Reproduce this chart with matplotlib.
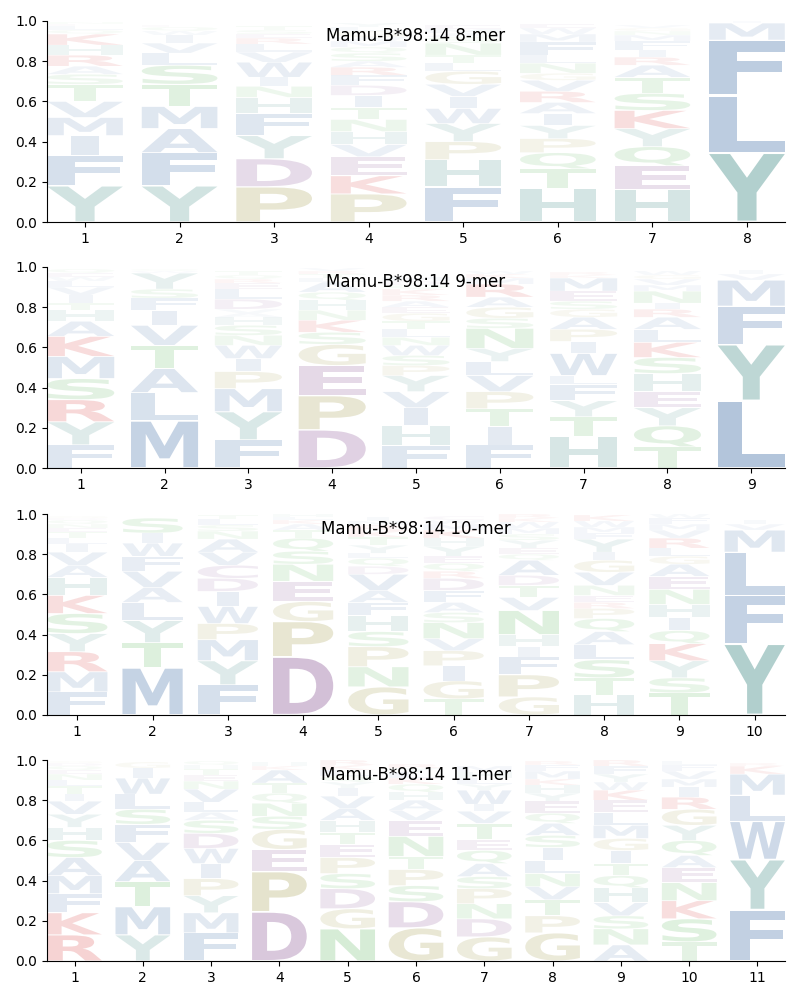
"""
Sequence logos for Mamu-B*98:14 peptide lengths 8-11
"""

#---------------------------------------------------------------------------------------------------
# Import Modules
#---------------------------------------------------------------------------------------------------

import matplotlib
matplotlib.use('Agg')
import matplotlib.pyplot as plt
from matplotlib.textpath import TextPath
from matplotlib.patches import PathPatch
from matplotlib.font_manager import FontProperties
from matplotlib.transforms import Affine2D


#---------------------------------------------------------------------------------------------------
# Input Data (letters listed bottom to top, with their frequencies)
#---------------------------------------------------------------------------------------------------

allele = 'Mamu-B*98:14'

letters_8mer = ['YFIMVTSARHKQLEN', 'YFAMTSLVIWQE', 'PDYFHNIWVLREST', 'PKEVHNTIDFRASQMWGLY',
                'FHPYWIVGLTNSAME', 'HTQPYIARVGNLFMWE', 'HEQYKSTARIFMNGV', 'YLFMI']
freqs_8mer = [[.18, .15, .10, .09, .08, .085, .05, .04, .055, .05, .055, .02, .02, .01, .01],
              [.18, .165, .12, .11, .11, .095, .06, .05, .04, .02, .02, .01],
              [.175, .14, .115, .11, .08, .055, .045, .075, .05, .04, .03, .02, .02, .02],
              [.14, .09, .095, .06, .065, .06, .06, .06, .05, .05, .04, .03, .04, .03, .03, .02, .03,
               .02, .02],
              [.175, .135, .09, .09, .075, .06, .06, .065, .04, .04, .06, .03, .02, .02, .02],
              [.165, .10, .08, .07, .065, .06, .055, .055, .055, .035, .05, .04, .065, .04, .03, .02],
              [.16, .12, .095, .09, .09, .085, .08, .06, .04, .035, .045, .03, .02, .015, .015],
              [.345, .285, .275, .085, .01]]

letters_9mer = ['FYRSMKAHTIVLWEQ', 'MLATVIFSYWQ', 'FYMPIWNSHAVDLERQT', 'DPEGSKNHQALTRV',
                'FHIVYPSWNLTGEARKQDM', 'FITPVLYNSGARMKW', 'HTYFLWIPAGSEMKR', 'TQYEHSKLARINMVGW',
                'LYFMVI']
freqs_9mer = [[.115, .115, .11, .105, .11, .10, .075, .055, .035, .04, .04, .03, .02, .02, .02],
              [.235, .14, .12, .115, .10, .075, .06, .045, .08, .01, .01],
              [.14, .14, .115, .085, .065, .065, .05, .05, .04, .02, .02, .05, .05, .03, .02, .02, .02],
              [.19, .17, .15, .105, .06, .06, .05, .05, .04, .05, .02, .02, .015, .015],
              [.11, .10, .09, .08, .08, .05, .05, .05, .04, .04, .04, .04, .03, .03, .03, .03, .02,
               .02, .02],
              [.115, .09, .09, .085, .08, .07, .065, .10, .05, .055, .05, .065, .03, .02, .015],
              [.155, .10, .08, .08, .045, .11, .06, .06, .06, .04, .04, .05, .065, .015, .015],
              [.105, .105, .09, .08, .09, .08, .075, .065, .06, .04, .03, .06, .03, .03, .02, .02],
              [.335, .28, .19, .13, .03, .02]]

letters_10mer = ['FMRYSKHAVILTENQDG', 'MTYLAVFWIS', 'FYMPWIDCVANSLT', 'DPGENSQTAKLH',
                 'GNPSHFAVDQLYTKRMI', 'TGIPVNSAFDRQEYHKMWC', 'GPFIHNVTDAQEYSMWKR',
                 'HTSLAQPRENVGIYFMWK', 'TSYKQIHNEAGLRVMFW', 'YFLMVI']
freqs_10mer = [[.115, .10, .10, .09, .10, .09, .09, .06, .065, .04, .03, .03, .02, .02, .02, .01, .01],
               [.235, .125, .11, .09, .075, .08, .075, .065, .05, .075],
               [.15, .12, .105, .08, .085, .075, .065, .065, .065, .065, .04, .03, .03, .02],
               [.29, .175, .10, .10, .085, .065, .065, .04, .03, .02, .015, .015],
               [.14, .10, .10, .075, .08, .065, .06, .08, .04, .04, .025, .04, .04, .03, .03, .02, .02],
               [.08, .09, .075, .075, .06, .08, .05, .05, .06, .06, .035, .04, .035, .05, .04, .04,
                .03, .02, .02],
               [.09, .11, .09, .05, .06, .12, .065, .06, .05, .075, .03, .03, .04, .03, .03, .03, .02,
                .02],
               [.10, .085, .09, .075, .065, .065, .05, .03, .035, .05, .065, .06, .04, .065, .03, .03,
                .03, .03],
               [.11, .075, .085, .085, .065, .065, .065, .075, .065, .06, .04, .04, .05, .04, .03, .03,
                .02],
               [.355, .24, .215, .11, .03, .02]]

letters_11mer = ['RKFMASHYVITLNEQDG', 'YMTAVFSLWIG', 'FMYPIWDSALVNETHQ', 'DPEGSNQTAKH',
                 'NGDSPETHAVIYQLKR', 'GDSPTNEVAHQKLYR', 'GDNPSAQETVIWYLHM', 'GPTVNLISAQEYHKMFR',
                 'ANSVHQTIGMLEKWYFR', 'TSKNEAQYGRIMVFL', 'FYWLMKR']
freqs_11mer = [[.13, .11, .095, .09, .09, .085, .065, .065, .065, .035, .04, .03, .03, .02, .02, .015,
                .01],
               [.13, .14, .125, .105, .09, .09, .075, .075, .08, .05, .03],
               [.14, .10, .085, .085, .075, .075, .075, .065, .04, .05, .065, .04, .03, .03, .02, .02],
               [.245, .20, .11, .10, .065, .065, .05, .05, .065, .02, .02],
               [.16, .10, .10, .075, .08, .065, .06, .06, .06, .06, .04, .03, .03, .03, .025, .025],
               [.165, .13, .08, .08, .065, .10, .08, .05, .05, .04, .04, .03, .03, .02, .02],
               [.12, .09, .075, .075, .06, .065, .065, .055, .08, .06, .035, .07, .03, .03, .03, .03],
               [.14, .085, .08, .065, .065, .065, .065, .06, .06, .05, .06, .04, .04, .03, .04, .03,
                .02],
               [.08, .08, .065, .065, .075, .06, .06, .065, .06, .065, .065, .06, .05, .04, .04, .04,
                .03],
               [.095, .115, .09, .09, .075, .06, .075, .075, .08, .06, .05, .04, .04, .03, .02],
               [.255, .25, .19, .13, .105, .04, .015]]

# Amino acid colour classes
aa_colors = {}
for aa in 'AFILMVWX':
    aa_colors[aa] = '#4874aa'
for aa in 'YH':
    aa_colors[aa] = '#4c928d'
for aa in 'DEC':
    aa_colors[aa] = '#8b5696'
for aa in 'PG':
    aa_colors[aa] = '#a29a4a'
for aa in 'KR':
    aa_colors[aa] = '#d32222'
for aa in 'STNQ':
    aa_colors[aa] = '#4fb04f'

output_file = 'out.png'


#---------------------------------------------------------------------------------------------------
# Glyph Drawing
#---------------------------------------------------------------------------------------------------

fp = FontProperties(family='DejaVu Sans', weight='bold')
glyph_width = 0.8
vpad = 0.04
ref_width = TextPath((0, 0), 'E', size=1, prop=fp).get_extents().width


def draw_glyph(ax, c, x, y0, h, color, alpha):
    path = TextPath((0, 0), c, size=1, prop=fp)
    ext = path.get_extents()
    # narrow characters (I) are not stretched to the full column width
    if ext.width < 0.6 * ref_width:
        hs = glyph_width / ref_width
    else:
        hs = glyph_width / ext.width
    w = ext.width * hs
    vs = h * (1 - vpad) / ext.height
    tr = (Affine2D().translate(-ext.x0, -ext.y0).scale(hs, vs)
          .translate(x - w / 2, y0 + h * vpad / 2))
    ax.add_patch(PathPatch(tr.transform_path(path), fc=color, ec='none', alpha=alpha, lw=0))


#---------------------------------------------------------------------------------------------------
# Make Plot
#---------------------------------------------------------------------------------------------------

logos = [(8, letters_8mer, freqs_8mer), (9, letters_9mer, freqs_9mer),
         (10, letters_10mer, freqs_10mer), (11, letters_11mer, freqs_11mer)]

fig = plt.figure(figsize=(8, 10), dpi=100)
bottoms = [0.778, 0.532, 0.285, 0.039]
for (nmer, letters, freqs), bot in zip(logos, bottoms):
    ax = fig.add_axes([0.059, bot, 0.922, 0.201])
    for i in range(nmer):
        y = 0.
        for c, f in zip(letters[i], freqs[i]):
            draw_glyph(ax, c, i + 1, y, f, aa_colors[c], min(1., f ** 0.8))
            y += f
    ax.set_xlim(0.6, nmer + 0.4)
    ax.set_ylim(0, 1)
    ax.set_xticks(range(1, nmer + 1))
    ax.set_yticks([0, 0.2, 0.4, 0.6, 0.8, 1.0])
    ax.spines['top'].set_visible(False)
    ax.spines['right'].set_visible(False)
    ax.text(0.5, 0.925, '%s %d-mer' % (allele, nmer), transform=ax.transAxes, ha='center',
            va='center', size=12)

plt.savefig(output_file, dpi=100)
